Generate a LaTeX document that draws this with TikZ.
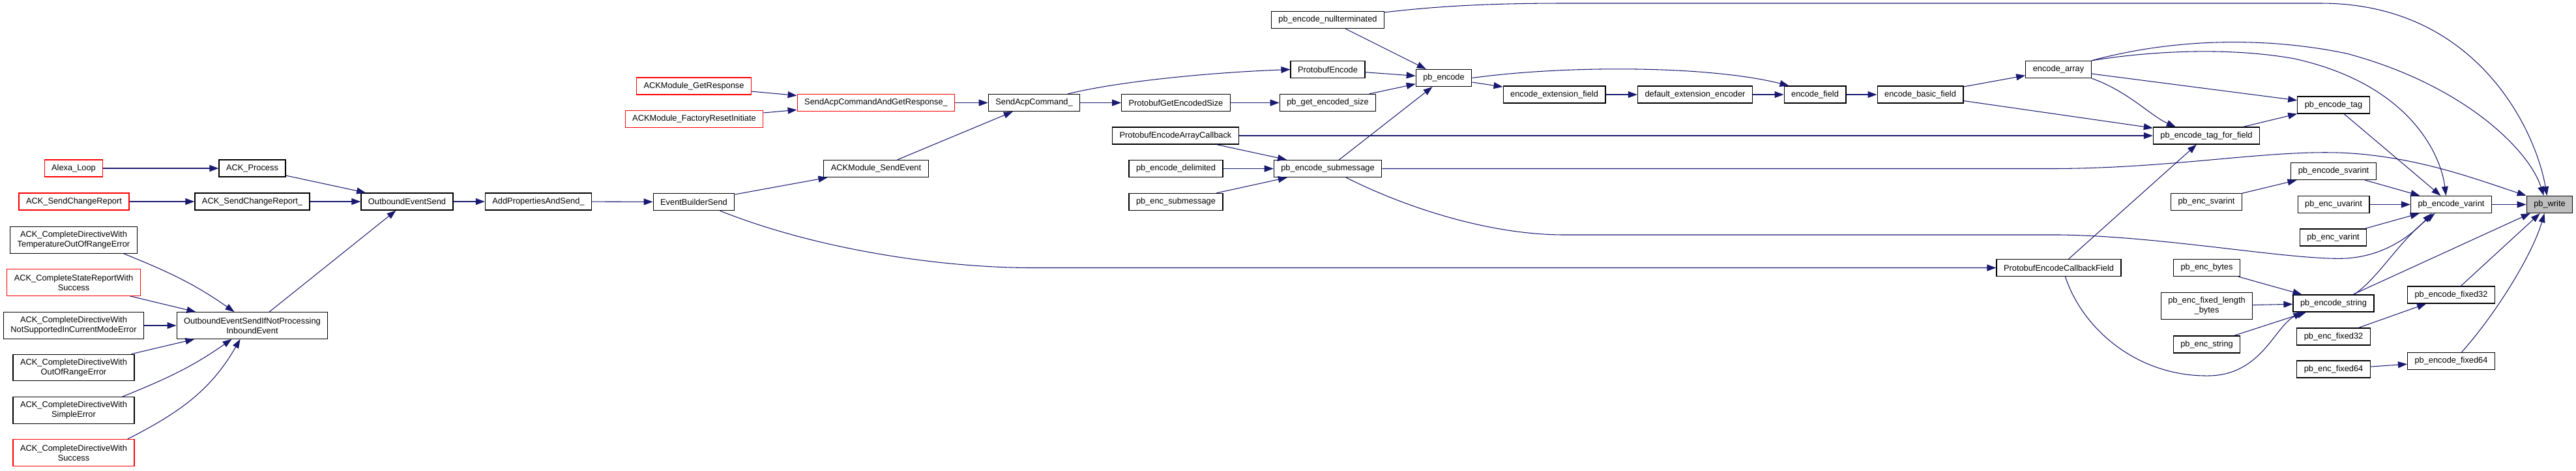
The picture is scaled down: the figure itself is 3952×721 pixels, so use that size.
\documentclass[tikz,border=0pt]{standalone}
\usepackage{fontspec}
\setmainfont{Liberation Sans}
\usetikzlibrary{arrows.meta, calc}
\definecolor{EdgeBlue}{RGB}{25, 25, 112}
\definecolor{CutRed}{RGB}{255, 0, 0}
\definecolor{SelfGrey}{RGB}{191, 191, 191}

\begin{document}
\begin{tikzpicture}[x=0.02cm, y=0.02cm,
  box/.style={draw=black, line width=0.7pt, fill=white, font=\fontsize{7.3}{8.5}\selectfont, align=center, inner xsep=0.22cm, inner ysep=0pt, minimum height=0.52cm},
  tall/.style={box, minimum height=0.81cm},
  cut/.style={draw=CutRed},
  self/.style={box, fill=SelfGrey},
  call/.style={-{Triangle[length=0.28cm, width=0.2cm]}, EdgeBlue, line width=0.6pt}]
\useasboundingbox (0,0) rectangle (3952,-721);
\node[box, cut] (alexa) at (113,-258) {Alexa\_Loop};
\node[box] (process) at (387,-258) {ACK\_Process};
\node[box, cut] (report) at (113.5,-309) {ACK\_SendChangeReport};
\node[box] (reportu) at (387,-309) {ACK\_SendChangeReport\_};
\node[tall] (tempErr) at (113,-368) {ACK\_CompleteDirectiveWith\\TemperatureOutOfRangeError};
\node[tall, cut] (stateOk) at (113,-433) {ACK\_CompleteStateReportWith\\Success};
\node[tall] (modeErr) at (113,-499) {ACK\_CompleteDirectiveWith\\NotSupportedInCurrentModeError};
\node[tall] (rangeErr) at (113,-563.5) {ACK\_CompleteDirectiveWith\\OutOfRangeError};
\node[tall] (simpleErr) at (113,-629) {ACK\_CompleteDirectiveWith\\SimpleError};
\node[tall, cut] (directOk) at (113,-694) {ACK\_CompleteDirectiveWith\\Success};
\node[tall] (sendIf) at (387,-499) {OutboundEventSendIfNotProcessing\\InboundEvent};
\node[box] (outSend) at (624.5,-309) {OutboundEventSend};
\node[box] (addProps) at (826,-309) {AddPropertiesAndSend\_};
\node[box] (evSend) at (1064.5,-309.5) {EventBuilderSend};
\node[box, cut] (getResp) at (1064.5,-132) {ACKModule\_GetResponse};
\node[box, cut] (factReset) at (1065,-182.5) {ACKModule\_FactoryResetInitiate};
\node[box, cut] (acpGet) at (1344,-157.5) {SendAcpCommandAndGetResponse\_};
\node[box] (modEvent) at (1344,-258.5) {ACKModule\_SendEvent};
\node[box] (acpCmd) at (1586.5,-157.5) {SendAcpCommand\_};
\node[box] (pbufSize) at (1804,-157.5) {ProtobufGetEncodedSize};
\node[box] (arrCb) at (1803.5,-208) {ProtobufEncodeArrayCallback};
\node[box] (delim) at (1804,-258.5) {pb\_encode\_delimited};
\node[box] (encSub) at (1804,-309.5) {pb\_enc\_submessage};
\node[box] (nullTerm) at (2037,-30.5) {pb\_encode\_nullterminated};
\node[box] (pbufEnc) at (2037,-106.5) {ProtobufEncode};
\node[box] (getSize) at (2037,-157.5) {pb\_get\_encoded\_size};
\node[box] (subMsg) at (2037,-258.5) {pb\_encode\_submessage};
\node[box] (pbEnc) at (2215,-119.5) {pb\_encode};
\node[box] (extField) at (2384.5,-145) {encode\_extension\_field};
\node[box] (extEnc) at (2600.5,-145) {default\_extension\_encoder};
\node[box] (field) at (2784.5,-145) {encode\_field};
\node[box] (basic) at (2946,-145) {encode\_basic\_field};
\node[box] (array) at (3158,-106.5) {encode\_array};
\node[box] (cbField) at (3158.5,-410.5) {ProtobufEncodeCallbackField};
\node[box] (tagField) at (3385,-208) {pb\_encode\_tag\_for\_field};
\node[box] (encSvar) at (3385,-309.5) {pb\_enc\_svarint};
\node[box] (encBytes) at (3385.5,-410.5) {pb\_enc\_bytes};
\node[tall] (fixLen) at (3385.5,-469) {pb\_enc\_fixed\_length\\\_bytes};
\node[box] (encStr) at (3385.5,-528) {pb\_enc\_string};
\node[box] (tag) at (3580,-161) {pb\_encode\_tag};
\node[box] (svar) at (3580,-262.5) {pb\_encode\_svarint};
\node[box] (encUvar) at (3580,-313.5) {pb\_enc\_uvarint};
\node[box] (encVar) at (3579.5,-364) {pb\_enc\_varint};
\node[box] (str) at (3580,-465) {pb\_encode\_string};
\node[box] (encF32) at (3580,-516) {pb\_enc\_fixed32};
\node[box] (encF64) at (3580,-566) {pb\_enc\_fixed64};
\node[box] (varint) at (3760.5,-313.5) {pb\_encode\_varint};
\node[box] (f32) at (3760.5,-452) {pb\_encode\_fixed32};
\node[box] (f64) at (3760.5,-553.5) {pb\_encode\_fixed64};
\node[self] (write) at (3911.5,-313.5) {pb\_write};
\draw[call] (alexa) -- (process); \draw[call] (report) -- (reportu);
\draw[call] (process) -- (outSend); \draw[call] (reportu) -- (outSend); \draw[call] (sendIf) -- (outSend);
\draw[call] ($(tempErr.south east)+(-21,0)$) to[out=-22, in=145] ($(sendIf.north west)+(89,0)$);
\draw[call] (stateOk) -- (sendIf); \draw[call] (modeErr) -- (sendIf); \draw[call] (rangeErr) -- (sendIf);
\draw[call] ($(simpleErr.north east)+(-19,0)$) to[out=22, in=-145] ($(sendIf.south west)+(85,0)$);
\draw[call] ($(directOk.north east)+(-11,0)$) to[out=27, in=-120] ($(sendIf.south west)+(98,0)$);
\draw[call] (outSend) -- (addProps); \draw[call] (addProps) -- (evSend); \draw[call] (evSend) -- (modEvent);
\draw[call] ($(evSend.south)+(40,0)$) .. controls (1260,-385) and (1450,-410) .. (1580,-410.5) -- (cbField.west);
\draw[call] (modEvent) -- (acpCmd);
\draw[call] (getResp) -- (acpGet); \draw[call] (factReset) -- (acpGet); \draw[call] (acpGet) -- (acpCmd);
\draw[call] ($(acpCmd.north east)+(-19,0)$) .. controls (1720,-124) and (1860,-111) .. (pbufEnc.west);
\draw[call] (acpCmd) -- (pbufSize); \draw[call] (pbufSize) -- (getSize);
\draw[call] (nullTerm) -- (pbEnc); \draw[call] (pbufEnc) -- (pbEnc); \draw[call] (getSize) -- (pbEnc); \draw[call] (subMsg) -- (pbEnc);
\draw[call] (pbEnc) -- (extField); \draw[call] (extField) -- (extEnc); \draw[call] (extEnc) -- (field);
\draw[call] (pbEnc.east) .. controls (2400,-100) and (2620,-100) .. ($(field.north west)+(8,0)$);
\draw[call] (field) -- (basic); \draw[call] (basic) -- (array); \draw[call] (basic) -- (tagField);
\draw[call] (array.south east) .. controls (3265,-140) and (3300,-178) .. ($(tagField.north west)+(35,0)$);
\draw[call] (array) -- (tag);
\draw[call] (array.north east) .. controls (3300,-78) and (3420,-72) .. (3520,-90) .. controls (3700,-130) and (3745,-240) .. ($(varint.north)+(-8,0)$);
\draw[call] (array.north east) .. controls (3330,-60) and (3470,-55) .. (3600,-82) .. controls (3780,-130) and (3880,-230) .. ($(write.north)+(-9,0)$);
\draw[call] ($(nullTerm.north east)+(0,-2)$) .. controls (2200,-10) and (2280,-5) .. (2400,-5) -- (3560,-5) .. controls (3800,-5) and (3890,-200) .. ($(write.north)+(-4,0)$);
\draw[call] (arrCb) -- (subMsg); \draw[call] (arrCb) -- (tagField); \draw[call] (delim) -- (subMsg); \draw[call] (encSub) -- (subMsg);
\draw[call] (subMsg.east) -- (3150,-258.5) .. controls (3350,-258) and (3500,-225) .. (3620,-236) .. controls (3720,-245) and (3800,-275) .. (write.north west);
\draw[call] ($(subMsg.south)+(28,0)$) .. controls (2150,-315) and (2280,-360) .. (2400,-360) -- (3160,-360) .. controls (3320,-362) and (3520,-400) .. (3600,-396) .. controls (3660,-392) and (3700,-360) .. ($(varint.south)+(-30,0)$);
\draw[call] (cbField) -- (tagField);
\draw[call] ($(cbField.south)+(10,0)$) .. controls (3195,-505) and (3280,-578) .. (3390,-576) .. controls (3470,-574) and (3490,-500) .. ($(str.south west)+(15,0)$);
\draw[call] (tagField) -- (tag); \draw[call] (tag) -- (varint); \draw[call] (svar) -- (varint); \draw[call] (encSvar) -- (svar);
\draw[call] (encUvar) -- (varint); \draw[call] (encVar) -- (varint); \draw[call] (varint) -- (write);
\draw[call] ($(str.north east)+(-31,0)$) .. controls (3650,-425) and (3680,-370) .. ($(varint.south)+(-25,0)$);
\draw[call] (str) -- (write); \draw[call] (f32) -- (write);
\draw[call] ($(f64.north)+(16,0)$) .. controls (3830,-480) and (3885,-390) .. ($(write.south)+(-8,0)$);
\draw[call] (encF32) -- (f32); \draw[call] (encF64) -- (f64);
\draw[call] (encBytes) -- (str); \draw[call] (fixLen) -- (str); \draw[call] (encStr) -- (str);
\end{tikzpicture}
\end{document}
